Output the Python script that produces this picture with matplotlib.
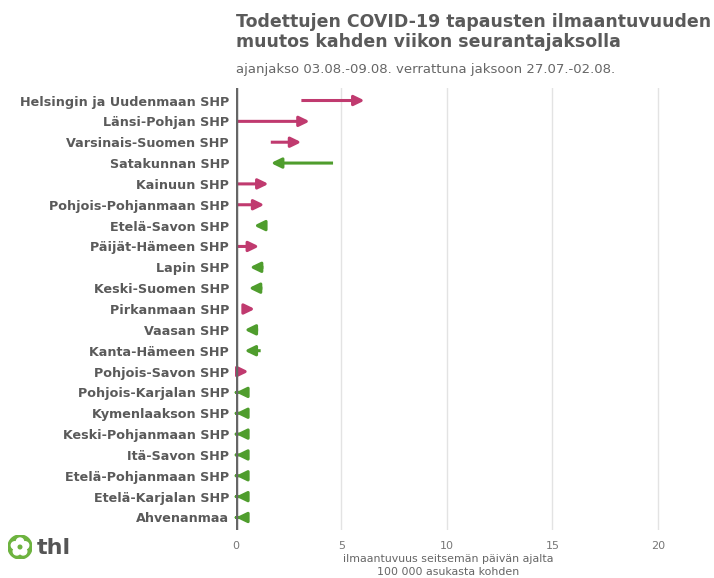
import matplotlib
matplotlib.use("Agg")
import matplotlib.pyplot as plt
from matplotlib.patches import Circle
import numpy as np

regions = ["Helsingin ja Uudenmaan SHP", "Länsi-Pohjan SHP", "Varsinais-Suomen SHP", "Satakunnan SHP",
           "Kainuun SHP", "Pohjois-Pohjanmaan SHP", "Etelä-Savon SHP", "Päijät-Hämeen SHP", "Lapin SHP",
           "Keski-Suomen SHP", "Pirkanmaan SHP", "Vaasan SHP", "Kanta-Hämeen SHP", "Pohjois-Savon SHP",
           "Pohjois-Karjalan SHP", "Kymenlaakson SHP", "Keski-Pohjanmaan SHP", "Itä-Savon SHP",
           "Etelä-Pohjanmaan SHP", "Etelä-Karjalan SHP", "Ahvenanmaa"]
# incidence per 100 000, previous period (27.07.-02.08.) and current period (03.08.-09.08.)
previous = [3.1, 0.0, 1.65, 4.6, 0.0, 0.0, 1.4, 0.0, 1.3, 1.25, 0.32, 1.05, 1.17, 0.0,
            0.0, 0.0, 0.0, 0.0, 0.0, 0.0, 0.0]
current = [6.1, 3.5, 3.1, 1.65, 1.55, 1.35, 0.85, 1.1, 0.65, 0.6, 0.9, 0.4, 0.4, 0.6,
           0.0, 0.0, 0.0, 0.0, 0.0, 0.0, 0.0]
xticks = [0, 5, 10, 15, 20]

pink = "#C03A6F"
green = "#4F9D2D"
grey = "#5a5a5a"

fig = plt.figure(figsize=(7.14, 5.78), dpi=100)
ax = fig.add_axes([236 / 714, 48 / 578, 424 / 714, 442 / 578])

for i, (a, b) in enumerate(zip(previous, current)):
    colour = pink if b > a else green
    start = a if b != a else a + 0.02  # zero change: only the head is seen
    ax.annotate("", xy=(b, i), xytext=(start, i),
                arrowprops=dict(arrowstyle="-|>,head_length=0.62,head_width=0.3", mutation_scale=10,
                                lw=2.2, color=colour, shrinkA=0, shrinkB=0, capstyle="butt",
                                joinstyle="round"),
                zorder=3)

ax.set_xlim(0, 20.1)
ax.set_ylim(len(regions) - 0.4, -0.6)
ax.set_yticks(range(len(regions)))
ax.set_yticklabels(regions, fontsize=9.2, fontweight="bold", color=grey)
ax.set_xticks(xticks)
ax.set_xticklabels([str(t) for t in xticks], fontsize=8, color="#777777")
ax.tick_params(length=0, pad=5)
ax.tick_params(axis="x", pad=8)
for s in ax.spines.values():
    s.set_visible(False)
for t in xticks[1:]:
    ax.axvline(t, color="#e3e3e3", lw=1, zorder=1)
ax.axvline(0, color="#666666", lw=2.5, zorder=4)

ax.set_xlabel("ilmaantuvuus seitsemän päivän ajalta\n100 000 asukasta kohden", fontsize=7.9,
              color="#666666", labelpad=2, linespacing=1.45)

fig.text(236 / 714, 1 - 13 / 578, "Todettujen COVID-19 tapausten ilmaantuvuuden\nmuutos kahden viikon seurantajaksolla",
         fontsize=12.5, fontweight="bold", color=grey, va="top", ha="left", linespacing=1.12)
fig.text(236 / 714, 1 - 70 / 578, "ajanjakso 03.08.-09.08. verrattuna jaksoon 27.07.-02.08.",
         fontsize=9.5, color="#666666", va="center", ha="left")

# thl logo
lax = fig.add_axes([8 / 714, 1 - 559 / 578, 24 / 714, 24 / 578])
lax.set_xlim(-1, 1)
lax.set_ylim(-1, 1)
lax.set_aspect("equal")
lax.axis("off")
lax.add_patch(Circle((0, 0), 1, color="#6DB33F"))
for ang in np.arange(5) * 72 + 90:
    r = np.deg2rad(ang)
    lax.add_patch(Circle((0.45 * np.cos(r), 0.45 * np.sin(r)), 0.3, color="white"))
lax.add_patch(Circle((0, 0), 0.15, color="#6DB33F"))
fig.text(37 / 714, 1 - 548 / 578, "thl", fontsize=16, fontweight="bold", color="#555555", va="center")

fig.savefig("out.png", dpi=100)
